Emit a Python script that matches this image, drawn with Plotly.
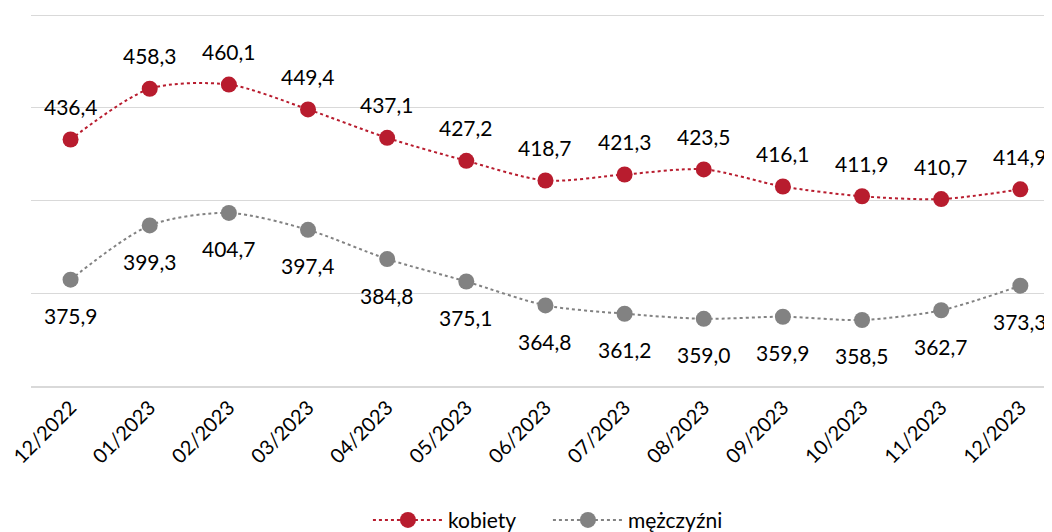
import plotly.graph_objects as go

months = ["12/2022", "01/2023", "02/2023", "03/2023", "04/2023", "05/2023", "06/2023",
          "07/2023", "08/2023", "09/2023", "10/2023", "11/2023", "12/2023"]
kobiety = [436.4, 458.3, 460.1, 449.4, 437.1, 427.2, 418.7, 421.3, 423.5, 416.1, 411.9, 410.7, 414.9]
mezczyzni = [375.9, 399.3, 404.7, 397.4, 384.8, 375.1, 364.8, 361.2, 359.0, 359.9, 358.5, 362.7, 373.3]

RED = "#B81C2E"
GRAY = "#828282"
FONT = "Lato"

def fmt(v):
    return f"{v:.1f}".replace(".", ",")

fig = go.Figure()
fig.add_trace(go.Scatter(x=months, y=kobiety, name="kobiety", mode="lines+markers",
                         line=dict(color=RED, width=2, dash="dot", shape="spline", smoothing=0.8),
                         marker=dict(color=RED, size=16)))
fig.add_trace(go.Scatter(x=months, y=mezczyzni, name="mężczyźni", mode="lines+markers",
                         line=dict(color=GRAY, width=2, dash="dot", shape="spline", smoothing=0.8),
                         marker=dict(color=GRAY, size=16)))

ann = []
for m, v in zip(months, kobiety):
    ann.append(dict(x=m, y=v, text=fmt(v), showarrow=False, yshift=33,
                    font=dict(family=FONT, size=21, color="#000000")))
for m, v in zip(months, mezczyzni):
    ann.append(dict(x=m, y=v, text=fmt(v), showarrow=False, yshift=-36,
                    font=dict(family=FONT, size=21, color="#000000")))

# page body has an 8px default margin, so the figure is sized to fill the rest of the window
fig.update_layout(
    width=1044, height=524,
    margin=dict(l=23, r=0, t=5, b=146, autoexpand=False),
    paper_bgcolor="white", plot_bgcolor="white",
    font=dict(family=FONT, size=21, color="#000000"),
    showlegend=True,
    legend=dict(orientation="h", x=0.33, xanchor="left", y=-0.36, yanchor="middle",
                font=dict(family=FONT, size=21), itemwidth=70, tracegroupgap=0,
                entrywidth=95, entrywidthmode="pixels"),
    annotations=ann,
    xaxis=dict(type="category", range=[-0.5, 12.4], showgrid=False, automargin=False,
               showline=True, linecolor="#D9D9D9", linewidth=2,
               tickangle=-45, ticks="", tickfont=dict(family=FONT, size=20)),
    yaxis=dict(range=[330, 491], dtick=40, tick0=330, showgrid=True, gridcolor="#D9D9D9",
               gridwidth=1, showticklabels=False, zeroline=False, ticks="", automargin=False),
)

fig.write_html("out.html")
